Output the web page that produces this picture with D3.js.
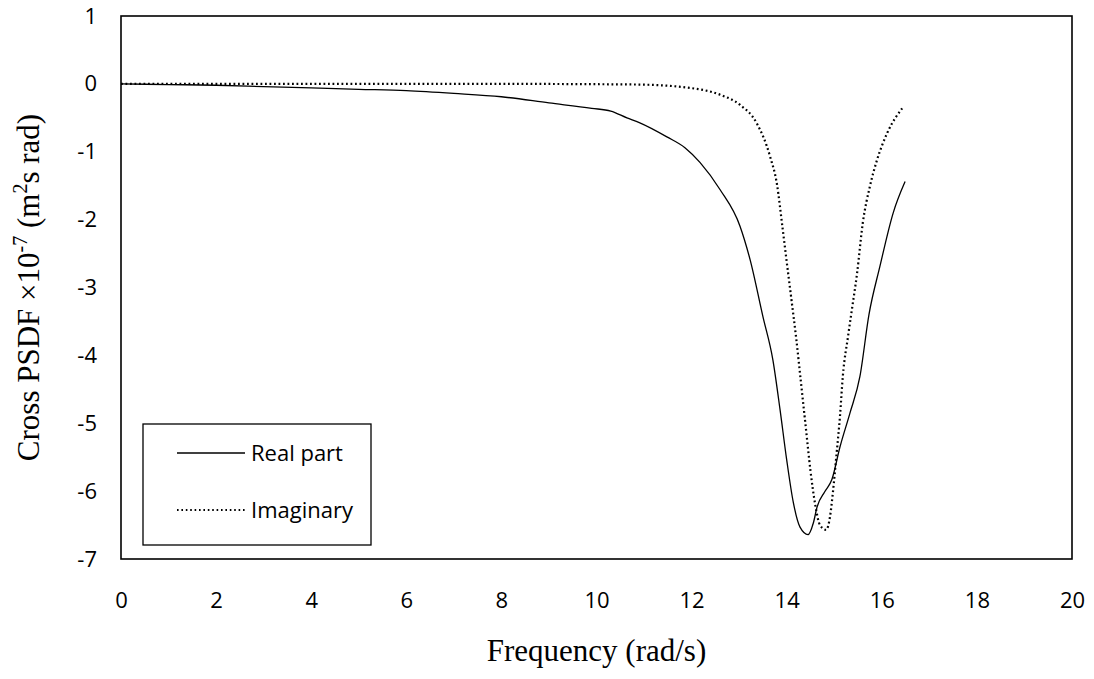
<!DOCTYPE html>
<html>
<head>
<meta charset="utf-8">
<script src="https://cdn.jsdelivr.net/npm/d3@7"></script>
<style>
	body { margin: 0; background: #fff; }
	svg { display: block; }
</style>
</head>
<body>
<svg id="chart" width="1094" height="679"></svg>
<script>
// frequency (rad/s) and cross PSDF x1e-7
var realFreq = [0, 1, 2, 3, 4, 5, 6, 7, 8, 9, 9.9, 10.3, 10.64, 10.9, 11.48, 11.86, 12.18, 12.6, 13.02, 13.23, 13.5, 13.71, 13.86, 14.0, 14.14, 14.28, 14.45, 14.56, 14.64, 14.8, 14.95, 15.12, 15.33, 15.54, 15.73, 15.96, 16.24, 16.49];
var realValues = [0, -0.01, -0.02, -0.04, -0.06, -0.08, -0.1, -0.14, -0.19, -0.28, -0.36, -0.4, -0.5, -0.57, -0.78, -0.94, -1.16, -1.56, -2.1, -2.59, -3.43, -4.07, -4.8, -5.54, -6.17, -6.53, -6.64, -6.47, -6.23, -6.01, -5.83, -5.35, -4.85, -4.31, -3.4, -2.69, -1.9, -1.44];
var imagFreq = [0, 2, 4, 6, 8, 10, 10.9, 11.97, 12.6, 13.02, 13.37, 13.65, 13.8, 13.9, 14.0, 14.1, 14.2, 14.3, 14.4, 14.5, 14.6, 14.7, 14.83, 14.91, 14.97, 15.05, 15.12, 15.18, 15.29, 15.37, 15.48, 15.6, 15.75, 15.9, 16.11, 16.45];
var imagValues = [0, 0, 0, 0, 0, -0.005, -0.01, -0.06, -0.16, -0.31, -0.58, -1.07, -1.5, -2.05, -2.62, -3.18, -3.75, -4.4, -5.05, -5.7, -6.2, -6.5, -6.57, -6.38, -6.03, -5.44, -4.9, -4.31, -3.72, -3.33, -2.79, -2.05, -1.51, -1.12, -0.73, -0.34];
var xTicks = [0, 2, 4, 6, 8, 10, 12, 14, 16, 18, 20];
var yTicks = [1, 0, -1, -2, -3, -4, -5, -6, -7];
var legendLabels = ["Real part", "Imaginary"];

var svg = d3.select("#chart");
var plot = { left: 121, top: 16, right: 1072, bottom: 559 };

var x = d3.scaleLinear().domain([0, 20]).range([plot.left, plot.right]);
var y = d3.scaleLinear().domain([-7, 1]).range([plot.bottom, plot.top]);

// axes: labels only, no tick marks
var xAxis = svg.append("g")
	.attr("transform", "translate(0," + plot.bottom + ")")
	.call(d3.axisBottom(x).tickValues(xTicks).tickSize(0).tickPadding(33).tickFormat(d3.format("d")));
var yAxis = svg.append("g")
	.attr("transform", "translate(" + plot.left + ",0)")
	.call(d3.axisLeft(y).tickValues(yTicks).tickSize(0).tickPadding(24).tickFormat(function (d) { return d < 0 ? "-" + Math.abs(d) : d; }));
[xAxis, yAxis].forEach(function (a) {
	a.select(".domain").remove();
	a.selectAll("text").style("font-family", "'Open Sans', sans-serif").style("font-size", "22px").attr("fill", "#000");
});

// plot area frame
svg.append("rect")
	.attr("x", plot.left).attr("y", plot.top)
	.attr("width", plot.right - plot.left).attr("height", plot.bottom - plot.top)
	.attr("fill", "none").attr("stroke", "#000").attr("stroke-width", 1.6);

var line = d3.line()
	.x(function (d) { return x(d[0]); })
	.y(function (d) { return y(d[1]); })
	.curve(d3.curveMonotoneX);

var realData = realFreq.map(function (f, i) { return [f, realValues[i]]; });
var imagData = imagFreq.map(function (f, i) { return [f, imagValues[i]]; });

svg.append("path").datum(realData)
	.attr("d", line).attr("fill", "none")
	.attr("stroke", "#000").attr("stroke-width", 1.3);
svg.append("path").datum(imagData)
	.attr("d", line).attr("fill", "none")
	.attr("stroke", "#000").attr("stroke-width", 2.2)
	.attr("stroke-dasharray", "1.8,2.7");

// legend
var legend = svg.append("g");
legend.append("rect")
	.attr("x", 143).attr("y", 424).attr("width", 228).attr("height", 121)
	.attr("fill", "#fff").attr("stroke", "#000").attr("stroke-width", 1.3);
legendLabels.forEach(function (lab, i) {
	var ly = 453 + i * 57;
	legend.append("line")
		.attr("x1", 177).attr("x2", 245).attr("y1", ly).attr("y2", ly)
		.attr("stroke", "#000")
		.attr("stroke-width", i == 0 ? 1.3 : 2)
		.attr("stroke-dasharray", i == 0 ? null : "1.6,2.8");
	legend.append("text")
		.attr("x", 251).attr("y", ly).attr("dy", "0.35em")
		.style("font-family", "'Open Sans', sans-serif").style("font-size", "22px")
		.text(lab);
});

// axis titles
svg.append("text")
	.attr("x", (plot.left + plot.right) / 2).attr("y", 661)
	.attr("text-anchor", "middle")
	.style("font-family", "'Liberation Serif', serif").style("font-size", "31px")
	.text("Frequency (rad/s)");

var yTitle = svg.append("text")
	.attr("transform", "translate(39," + ((plot.top + plot.bottom) / 2) + ") rotate(-90)")
	.attr("text-anchor", "middle")
	.style("font-family", "'Liberation Serif', serif").style("font-size", "31px");
yTitle.append("tspan").text("Cross PSDF \u00d710");
yTitle.append("tspan").attr("dy", -12).style("font-size", "20px").text("-7");
yTitle.append("tspan").attr("dy", 12).text(" (m");
yTitle.append("tspan").attr("dy", -12).style("font-size", "20px").text("2");
yTitle.append("tspan").attr("dy", 12).text("s rad)");
</script>
</body>
</html>
